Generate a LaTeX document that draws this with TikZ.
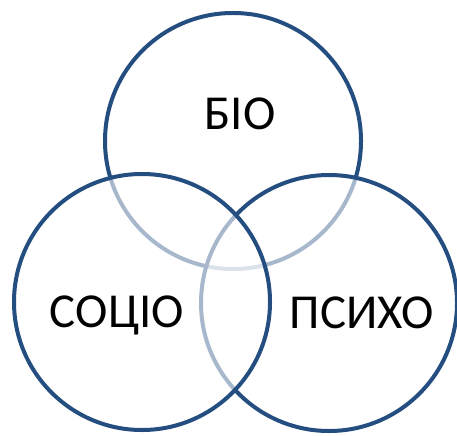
\documentclass[tikz,border=0pt]{standalone}
\usepackage{fontspec}
\setmainfont{Carlito}
\usepackage{xcolor}
\usepackage{tikz}

\definecolor{ringblue}{RGB}{36,77,128}

\begin{document}
\begin{tikzpicture}[x=1bp, y=-1bp,
    every node/.style={font=\fontsize{49}{49}\selectfont},
    ring/.style={circle, draw=ringblue, line width=4bp, fill=white, fill opacity=0.6, minimum size=256bp, inner sep=0pt},
    tag/.style={inner sep=0pt, text height=31bp, text depth=0pt}]
    \useasboundingbox (0,0) rectangle (457,436);
    % circles: later ones fade the lines of earlier ones
    \node[ring] (bio) at (233,141) {};
    \node[ring] (psycho) at (329,303) {};
    \node[ring] (socio) at (142,302) {};
    \node[tag] (biotxt) at (240,114) {БІО};
    \node[tag] (sociotxt) at (117,312) {СОЦІО};
    \node[tag] (psychotxt) at (362,313) {ПСИХО};
\end{tikzpicture}
\end{document}
